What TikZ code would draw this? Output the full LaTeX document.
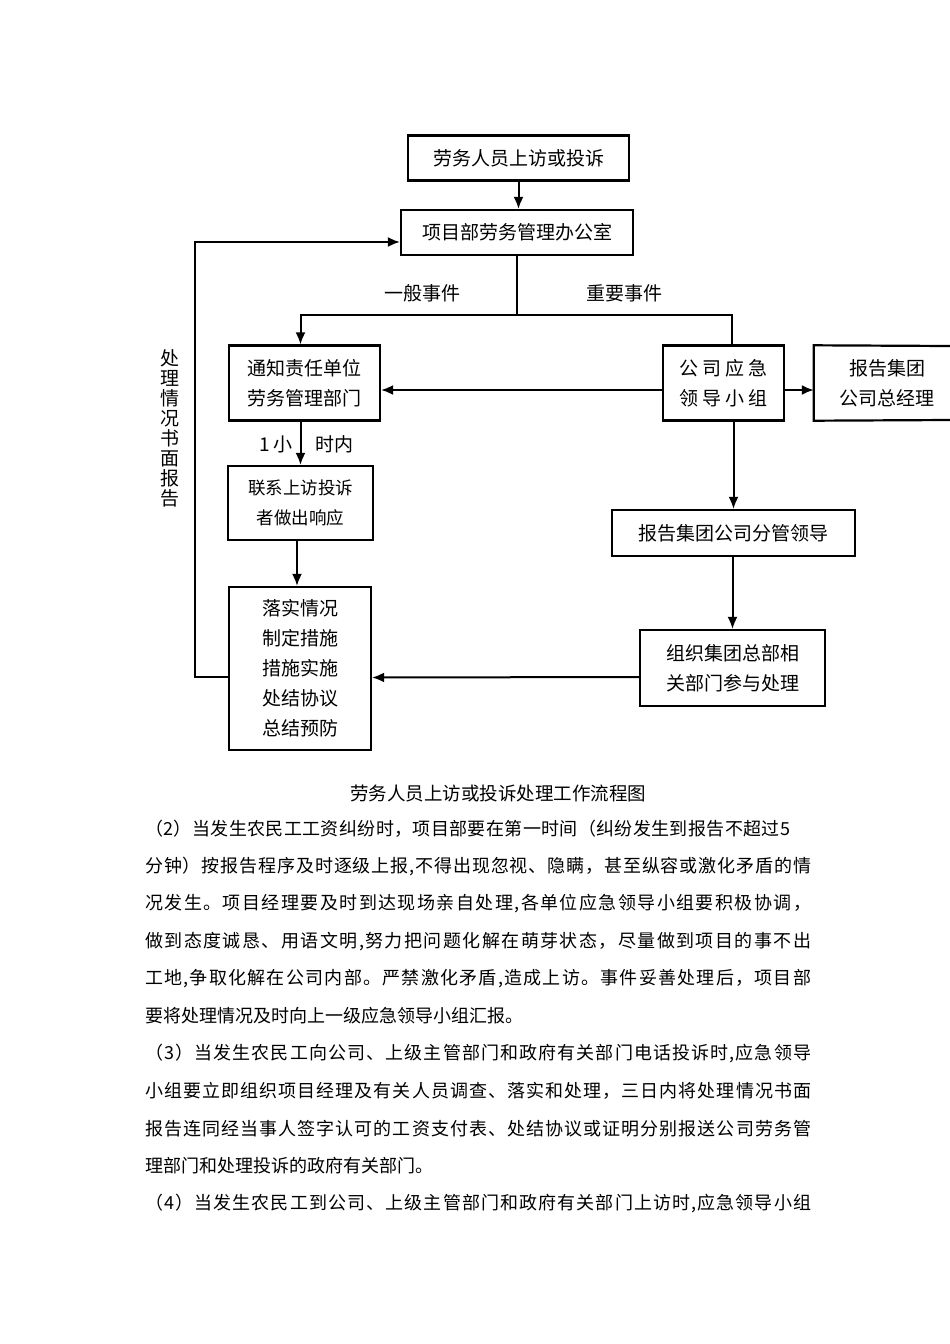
\documentclass[tikz,border=0pt]{standalone}
\usepackage{fontspec}
\setmainfont{Noto Sans CJK SC}
\usetikzlibrary{arrows.meta}
% spread the characters of one line evenly over a given width
\def\jusA#1{#1\jusB}
\def\jusB#1{\ifx\relax#1\else\hskip 0pt plus 1fil#1\expandafter\jusB\fi}
\newcommand\jusline[2]{\hbox to #1{\jusA#2\relax}}
\begin{document}
\begin{tikzpicture}[x=1pt,y=-1pt,
 box/.style={draw, line width=2.2pt, inner sep=0pt, align=center, font=\fontsize{19}{30}\selectfont},
 arr/.style={line width=2pt, -{Latex[length=12pt,width=10pt]}},
 ln/.style={line width=2pt},
 lbl/.style={inner sep=0pt, font=\fontsize{19}{22}\selectfont},
 bodyline/.style={anchor=west, inner sep=0pt, font=\fontsize{18}{20}\selectfont},
]
\useasboundingbox[fill=white] (0,0) rectangle (950,1344);

% boxes
\node[box, minimum width=221, minimum height=45] (b1) at (518.5,158) {劳务人员上访或投诉};
\node[box, minimum width=232, minimum height=45] (b2) at (517,232.5) {项目部劳务管理办公室};
\node[box, minimum width=151, minimum height=75] (tz) at (304.5,383) {通知责任单位\\劳务管理部门};
\node[box, minimum width=121, minimum height=75] (yj) at (723.5,383) {公\hspace{4pt}司\hspace{4pt}应\hspace{4pt}急\\领\hspace{4pt}导\hspace{4pt}小\hspace{4pt}组};
\node[lbl, align=center, font=\fontsize{19}{30}\selectfont, minimum width=146, minimum height=75] (gz) at (887,383) {报告集团\\公司总经理};
\draw[box] (950,346) -- (gz.north west) -- (gz.south west) -- (950,420);
\node[box, minimum width=145, minimum height=74, font=\fontsize{17.5}{30}\selectfont] (lx) at (300.5,503) {联系上访投诉\\者做出响应};
\node[box, minimum width=142, minimum height=163] (ls) at (300,668.5) {落实情况\\制定措施\\措施实施\\处结协议\\总结预防};
\node[box, minimum width=243, minimum height=46] (fg) at (733.5,533) {报告集团公司分管领导};
\node[box, minimum width=185, minimum height=76] (zz) at (732.5,668) {组织集团总部相\\关部门参与处理};

% connectors
\coordinate (jn) at (517,315);
\draw[arr] (b1.south) -- (b1.south |- b2.north);
\draw[ln] (b2.south) -- (jn);
\draw[arr] (jn) -| ([xshift=-4pt]tz.north);
\draw[ln] (jn) -| ([xshift=8pt]yj.north);
\draw[arr] ([yshift=-7pt]yj.west) -- ([yshift=-7pt]tz.east);
\draw[arr] ([yshift=-7pt]yj.east) -- ([yshift=-7pt]gz.west);
\draw[arr] (lx.north |- tz.south) -- (lx.north);
\draw[arr] ([xshift=-3pt]ls.north |- lx.south) -- ([xshift=-3pt]ls.north);
\draw[arr] (yj.south -| fg.north) -- (fg.north);
\draw[arr] (fg.south -| zz.north) -- (zz.north);
\draw[arr] ([yshift=-9pt]zz.west) -- ([yshift=-9pt]ls.east);
\draw[arr] ([yshift=-8.5pt]ls.west) -- ++(-33,0) |- ([yshift=-9.5pt]b2.west);

% labels
\node[lbl] (l1) at (422,293) {一般事件};
\node[lbl] (l2) at (624,293) {重要事件};
\node[lbl] (l3) at (276,444) {1 小};
\node[lbl] (l4) at (334,444) {时内};
\node[lbl, align=center, font=\fontsize{19}{20}\selectfont] (vt) at (170,428) {处\\理\\情\\况\\书\\面\\报\\告};

% caption
\node[lbl, font=\fontsize{18.5}{20}\selectfont] (cap) at (498,793) {劳务人员上访或投诉处理工作流程图};

% body text
\node[bodyline] (t1) at (145,829) {\jusline{645pt}{（2）当发生农民工工资纠纷时，项目部要在第一时间（纠纷发生到报告不超过5}};
\node[bodyline] (t2) at (145,866.4) {\jusline{666pt}{分钟）按报告程序及时逐级上报,不得出现忽视、隐瞒，甚至纵容或激化矛盾的情}};
\node[bodyline] (t3) at (145,903.8) {\jusline{666pt}{况发生。项目经理要及时到达现场亲自处理,各单位应急领导小组要积极协调，}};
\node[bodyline] (t4) at (145,941.2) {\jusline{666pt}{做到态度诚恳、用语文明,努力把问题化解在萌芽状态，尽量做到项目的事不出}};
\node[bodyline] (t5) at (145,978.6) {\jusline{666pt}{工地,争取化解在公司内部。严禁激化矛盾,造成上访。事件妥善处理后，项目部}};
\node[bodyline] (t6) at (145,1016) {要将处理情况及时向上一级应急领导小组汇报。};
\node[bodyline] (t7) at (145,1053.4) {\jusline{666pt}{（3）当发生农民工向公司、上级主管部门和政府有关部门电话投诉时,应急领导}};
\node[bodyline] (t8) at (145,1090.8) {\jusline{666pt}{小组要立即组织项目经理及有关人员调查、落实和处理，三日内将处理情况书面}};
\node[bodyline] (t9) at (145,1128.2) {\jusline{666pt}{报告连同经当事人签字认可的工资支付表、处结协议或证明分别报送公司劳务管}};
\node[bodyline] (t10) at (145,1165.6) {理部门和处理投诉的政府有关部门。};
\node[bodyline] (t11) at (145,1203) {\jusline{666pt}{（4）当发生农民工到公司、上级主管部门和政府有关部门上访时,应急领导小组}};
\end{tikzpicture}
\end{document}
